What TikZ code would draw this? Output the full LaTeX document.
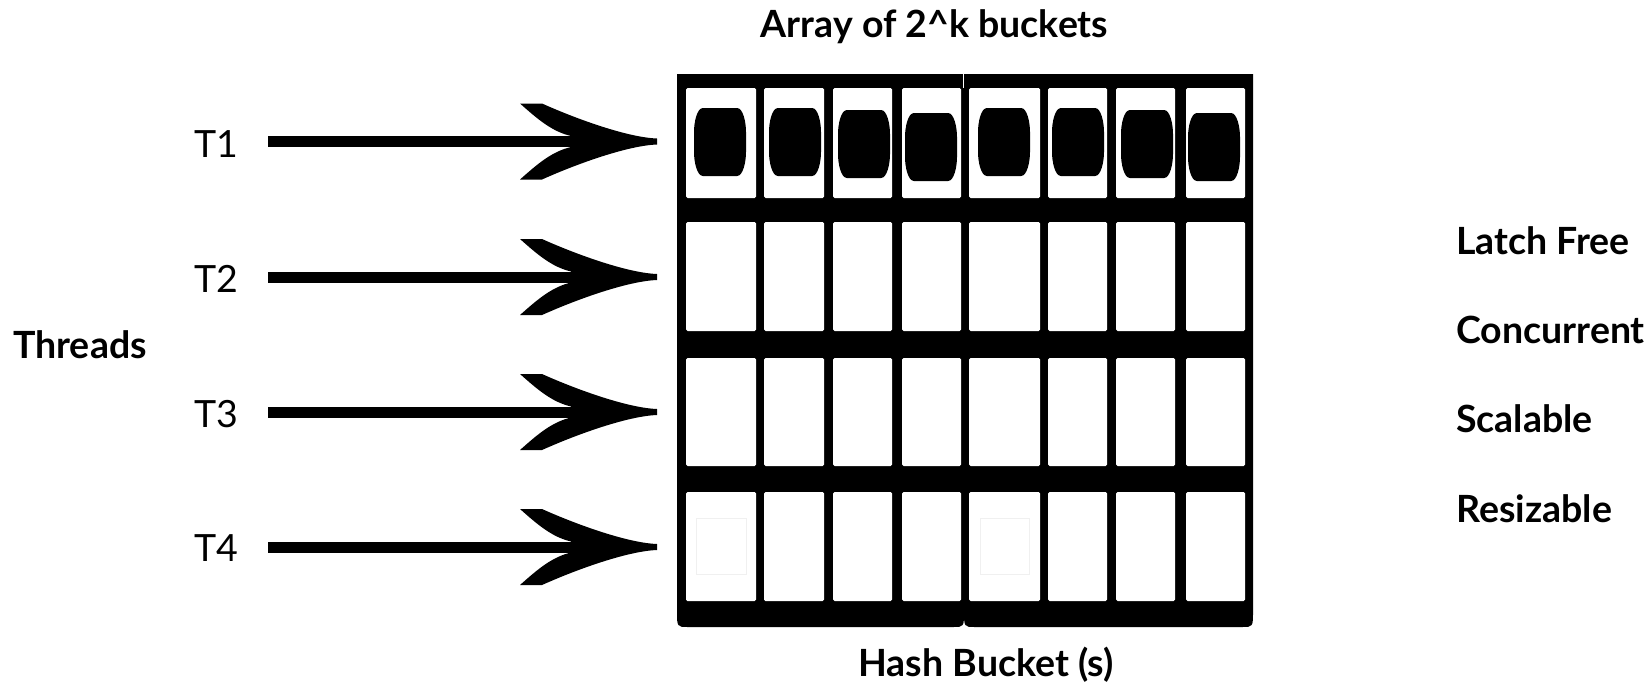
\documentclass[tikz,border=0pt]{standalone}
\usepackage{fontspec}
\setmainfont{Lato}
\tikzset{
  % curved two-barb head of a thread arrow, tip at the origin
  threadhead/.pic={
    \fill (-86,-5.5) .. controls (-105,-10) and (-119,-22) .. (-137,-38)
      -- (-115,-38) .. controls (-77,-21) and (-28,-4) .. (0,-3)
      -- (0,3) .. controls (-28,4) and (-77,21) .. (-115,38)
      -- (-137,38) .. controls (-119,22) and (-105,10) .. (-86,5.5) -- cycle;
  }
}
\begin{document}
\begin{tikzpicture}[x=1pt,y=-1pt,
  lbl/.style={inner sep=0pt, font=\fontsize{37.5}{45}\selectfont},
  blbl/.style={inner sep=0pt, font=\fontsize{37.5}{45}\selectfont\bfseries},
  cell/.style={fill=white, rounded corners=1.5pt},
  shaft/.style={line width=11pt},
  ghost/.style={draw=black!6, line width=1pt},
]
\useasboundingbox (0,0) rectangle (1650,683);

% bucket array: two black halves with rounded lower corners
\fill (677,74) -- (964,74) -- (964,611) .. controls (964,627) .. (953,627)
  -- (688,627) .. controls (677,627) .. (677,611) -- cycle;
\fill (963.5,74) -- (1253,74) -- (1253,611) .. controls (1253,627) .. (1242,627)
  -- (975,627) .. controls (964,627) .. (964,611) -- cycle;
\draw[white, line width=0.7pt] (963.8,74) -- (963.8,88);

% bucket cells
\foreach \xa/\xb in {686/756,764/824,833/892,902/961,969/1040,1048/1107,1116/1175,1186/1245}
  \foreach \ya/\yb in {88/198,222/331,358/466,492/601}
    \fill[cell] (\xa,\ya) rectangle (\xb,\yb);

% occupied buckets in the first row
\foreach \xa/\xb/\ya/\yb in {694/746/108/176, 769/821/108/176, 838/890/110/178, 905/957/113/181,
                              978/1030/108/176, 1052/1104/108/176, 1121/1173/110/178, 1188/1240/113/181}
  \fill (\xa+9,\ya) -- (\xb-9,\ya) .. controls (\xb-3,\ya) and (\xb,\ya+14) .. (\xb,\ya+24)
    -- (\xb,\yb-24) .. controls (\xb,\yb-14) and (\xb-3,\yb) .. (\xb-9,\yb)
    -- (\xa+9,\yb) .. controls (\xa+3,\yb) and (\xa,\yb-14) .. (\xa,\yb-24)
    -- (\xa,\ya+24) .. controls (\xa,\ya+14) and (\xa+3,\ya) .. cycle;

% faint outlines in the last row
\draw[ghost] (696,518) rectangle (746,574);
\draw[ghost] (980,518) rectangle (1029,574);

% threads and their arrows into the array
\foreach \i/\y/\b in {1/141.5/157, 2/277/292, 3/412/427, 4/547/561} {
  \node[lbl, anchor=base] (t\i) at (216,\b) {T\i};
  \coordinate (s\i) at (268,\y);
  \coordinate (j\i) at (575,\y);
  \coordinate (e\i) at (657,\y);
  \draw[shaft] (s\i) -- (j\i);
  \pic at (e\i) {threadhead};
}

\node[blbl, anchor=base west] (threads) at (13,358) {Threads};
\node[blbl, anchor=base] (title) at (934.5,37) {Array of 2\^{}k buckets};
\node[blbl, anchor=base] (hb) at (986,676) {Hash Bucket (s)};

% properties
\node[blbl, anchor=base west] (p1) at (1456,254) {Latch Free};
\node[blbl, anchor=base west] (p2) at (1456,343) {Concurrent};
\node[blbl, anchor=base west] (p3) at (1456,432) {Scalable};
\node[blbl, anchor=base west] (p4) at (1456,522) {Resizable};
\end{tikzpicture}
\end{document}
